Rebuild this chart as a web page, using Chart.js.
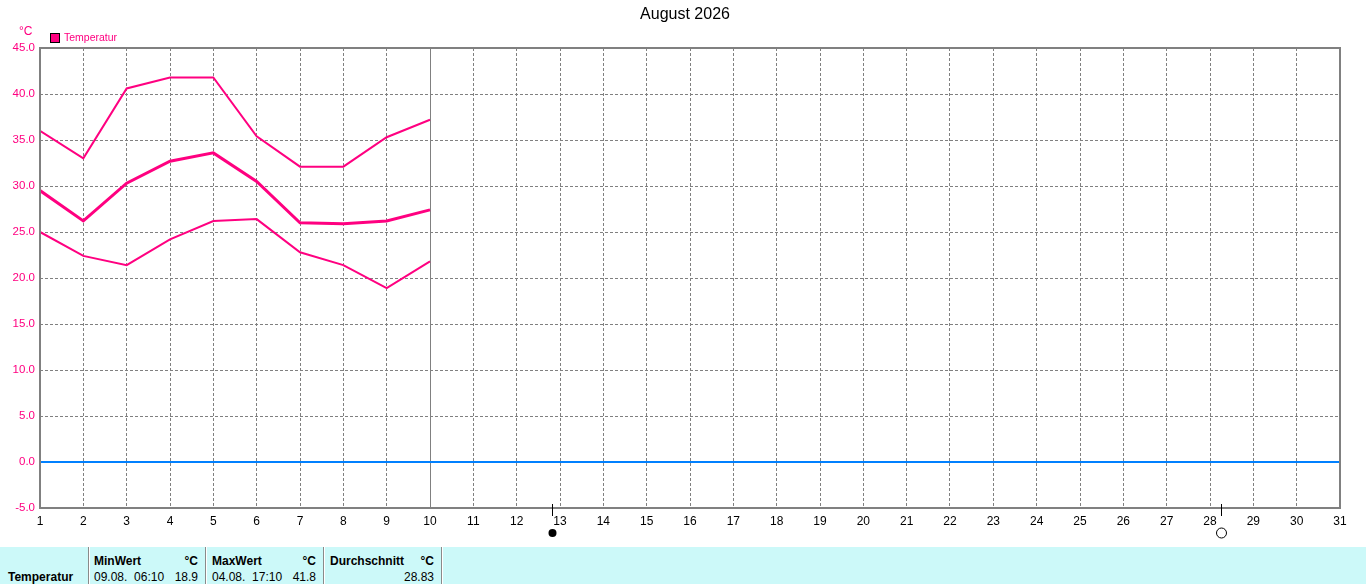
<!DOCTYPE html>
<html>
<head>
<meta charset="utf-8">
<script src="https://cdn.jsdelivr.net/npm/chart.js@4"></script>
<style>
  body { margin: 0; background: #fff; font-family: "Liberation Sans", Arial, sans-serif; }
  #wrap { position: relative; width: 1366px; height: 584px; overflow: hidden; }
  #chart { position: absolute; left: 0; top: 0; }
  #stats { position: absolute; left: 0; top: 547px; width: 1366px; height: 37px; background: #ccf9f9; font-size: 12px; color: #000; }
  #stats div { position: absolute; white-space: pre; line-height: 14px; }
  #stats .b { font-weight: bold; }
  #stats .sep { top: 0; height: 37px; width: 1px; background: #8a8a8a; border-right: 1px solid #fff; }
  #stats .r { text-align: right; }
</style>
</head>
<body>
<div id="wrap">
  <canvas id="chart" width="1366" height="547"></canvas>
  <div id="stats"></div>
</div>
<script>
const monthTitle = "August 2026";
const seriesName = "Temperatur";
const unit = "°C";
const days = [1, 2, 3, 4, 5, 6, 7, 8, 9, 10];
const tempMax = [36.0, 33.0, 40.6, 41.8, 41.8, 35.4, 32.1, 32.1, 35.3, 37.2];
const tempMean = [29.5, 26.2, 30.3, 32.7, 33.6, 30.5, 26.0, 25.9, 26.2, 27.4];
const tempMin = [25.0, 22.4, 21.4, 24.2, 26.2, 26.4, 22.8, 21.4, 18.9, 21.8];
const minTimes = ["", "", "", "", "", "", "", "", "06:10", ""];
const maxTimes = ["", "", "", "17:10", "", "", "", "", "", ""];
const daysInMonth = 31;
const monthNum = "08";
// moon phases as fractional day of month (local time)
const newMoon = 12.82;
const fullMoon = 28.26;

const pink = "#ff0080";
const gridGray = "#808080";
const today = days[days.length - 1];

const pts = arr => days.map((d, i) => ({ x: d, y: arr[i] }));

const frameAndMarks = {
  id: "frameAndMarks",
  afterDraw(chart) {
    const ctx = chart.ctx;
    const a = chart.chartArea;
    const xs = chart.scales.x;
    ctx.save();
    // plot frame
    ctx.strokeStyle = gridGray;
    ctx.lineWidth = 2;
    ctx.strokeRect(a.left, a.top, a.right - a.left, a.bottom - a.top);
    // title, centred on the whole canvas
    ctx.font = "16px 'Liberation Sans', Arial, sans-serif";
    ctx.fillStyle = "#000";
    ctx.textAlign = "center";
    ctx.textBaseline = "middle";
    ctx.fillText(monthTitle, chart.width / 2 + 2, 15);
    // unit label and legend
    ctx.textAlign = "left";
    ctx.font = "12px 'Liberation Sans', Arial, sans-serif";
    ctx.fillStyle = pink;
    ctx.fillText(unit, 19, 32);
    ctx.fillRect(50, 33, 10, 10);
    ctx.strokeStyle = "#000";
    ctx.lineWidth = 1;
    ctx.strokeRect(50.5, 33.5, 9, 9);
    ctx.font = "10.5px 'Liberation Sans', Arial, sans-serif";
    ctx.fillStyle = pink;
    ctx.fillText(seriesName, 64, 38.5);
    // moon phase markers
    [[newMoon, true], [fullMoon, false]].forEach(([d, filled]) => {
      const px = Math.round(xs.getPixelForValue(d)) + 0.5;
      ctx.strokeStyle = "#000";
      ctx.lineWidth = 1;
      ctx.beginPath();
      ctx.moveTo(px, a.bottom - 4);
      ctx.lineTo(px, a.bottom + 8);
      ctx.stroke();
      ctx.beginPath();
      if (filled) {
        ctx.arc(px, 533, 4, 0, Math.PI * 2);
        ctx.fillStyle = "#000";
        ctx.fill();
      } else {
        ctx.arc(px, 533, 5, 0, Math.PI * 2);
        ctx.stroke();
      }
    });
    ctx.restore();
  }
};

new Chart(document.getElementById("chart"), {
  type: "line",
  data: {
    datasets: [
      { label: seriesName + " max", data: pts(tempMax), borderColor: pink, borderWidth: 2 },
      { label: seriesName, data: pts(tempMean), borderColor: pink, borderWidth: 3 },
      { label: seriesName + " min", data: pts(tempMin), borderColor: pink, borderWidth: 2 }
    ]
  },
  options: {
    responsive: false,
    animation: false,
    devicePixelRatio: 1,
    layout: { padding: { left: 0, right: 26, top: 48, bottom: 0 } },
    elements: { point: { radius: 0 }, line: { tension: 0, fill: false } },
    plugins: {
      legend: { display: false },
      tooltip: { enabled: false },
      title: { display: false }
    },
    scales: {
      x: {
        type: "linear",
        min: 1,
        max: daysInMonth,
        afterFit: s => { s.height = 39; },
        ticks: {
          stepSize: 1,
          padding: 6,
          color: "#000",
          font: { family: "'Liberation Sans', Arial, sans-serif", size: 12 },
          maxRotation: 0,
          autoSkip: false
        },
        grid: {
          drawTicks: false,
          color: gridGray,
          lineWidth: 1
        },
        border: {
          display: false,
          dash: ctx => (ctx.tick && ctx.tick.value === today ? [] : [3, 2])
        }
      },
      y: {
        min: -5,
        max: 45,
        afterFit: s => { s.width = 40; },
        ticks: {
          stepSize: 5,
          padding: 5,
          color: pink,
          font: { family: "'Liberation Sans', Arial, sans-serif", size: 11.5 },
          callback: v => v.toFixed(1)
        },
        grid: {
          drawTicks: false,
          color: ctx => (ctx.tick && ctx.tick.value === 0 ? "#0080ff" : gridGray),
          lineWidth: ctx => (ctx.tick && ctx.tick.value === 0 ? 2 : 1)
        },
        border: {
          display: false,
          dash: ctx => (ctx.tick && ctx.tick.value === 0 ? [] : [3, 2])
        }
      }
    }
  },
  plugins: [frameAndMarks]
});

// statistics bar below the chart
const pad = n => String(n).padStart(2, "0");
const minVal = Math.min(...tempMin);
const minIdx = tempMin.indexOf(minVal);
const maxVal = Math.max(...tempMax);
const maxIdx = tempMax.indexOf(maxVal);
const avg = tempMean.reduce((s, v) => s + v, 0) / tempMean.length;

const stats = document.getElementById("stats");
const cells = [
  { t: seriesName, x: 8, y: 23, b: true },
  { t: "MinWert", x: 94, y: 7, b: true },
  { t: unit, x: 150, w: 48, y: 7, b: true, r: true },
  { t: pad(days[minIdx]) + "." + monthNum + ".  " + minTimes[minIdx], x: 94, y: 23 },
  { t: minVal.toFixed(1), x: 150, w: 48, y: 23, r: true },
  { t: "MaxWert", x: 212, y: 7, b: true },
  { t: unit, x: 268, w: 48, y: 7, b: true, r: true },
  { t: pad(days[maxIdx]) + "." + monthNum + ".  " + maxTimes[maxIdx], x: 212, y: 23 },
  { t: maxVal.toFixed(1), x: 268, w: 48, y: 23, r: true },
  { t: "Durchschnitt", x: 330, y: 7, b: true },
  { t: unit, x: 386, w: 48, y: 7, b: true, r: true },
  { t: avg.toFixed(2), x: 374, w: 60, y: 23, r: true }
];
cells.forEach(c => {
  const el = document.createElement("div");
  el.textContent = c.t;
  el.style.left = c.x + "px";
  el.style.top = c.y + "px";
  if (c.w) el.style.width = c.w + "px";
  if (c.b) el.classList.add("b");
  if (c.r) el.classList.add("r");
  stats.appendChild(el);
});
[88, 205, 323, 441].forEach(x => {
  const s = document.createElement("div");
  s.className = "sep";
  s.style.left = x + "px";
  stats.appendChild(s);
});
</script>
</body>
</html>
